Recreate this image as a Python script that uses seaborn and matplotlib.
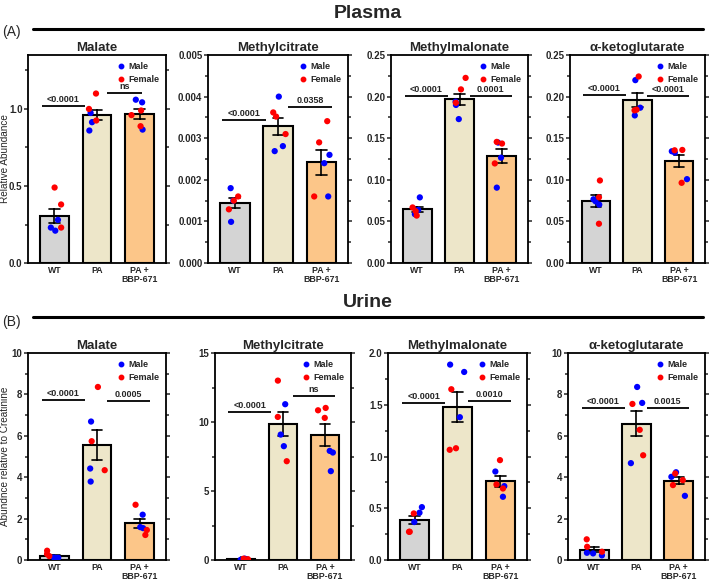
import numpy as np
import pandas as pd
import seaborn as sns
import matplotlib.pyplot as plt
from matplotlib.lines import Line2D
from matplotlib.ticker import MultipleLocator, FormatStrFormatter

# groups and sex of the 6 animals in each group (3 male, 3 female)
groups = ["WT", "PA", "PA +\nBBP-671"]
sexes = ["Male"] * 3 + ["Female"] * 3

# values: WT (M,M,M,F,F,F), PA (...), PA + BBP-671 (...)
plasma_malate = [0.21, 0.28, 0.23, 0.49, 0.38, 0.23,
                 0.974, 0.914, 0.86, 1.10, 1.00, 0.925,
                 1.043, 1.06, 0.866, 0.99, 0.96, 0.888]
plasma_methylcitrate = [0.00180, 0.00150, 0.00099, 0.00160, 0.00150, 0.00129,
                        0.00400, 0.00281, 0.00269, 0.00362, 0.00352, 0.00310,
                        0.00260, 0.00240, 0.00160, 0.00341, 0.00290, 0.00160]
plasma_methylmalonate = [0.0789, 0.0639, 0.0587, 0.0668, 0.0623, 0.0570,
                         0.194, 0.190, 0.173, 0.2225, 0.2087, 0.1926,
                         0.1448, 0.1266, 0.0906, 0.1456, 0.1436, 0.1197]
plasma_akg = [0.0742, 0.0766, 0.0702, 0.0992, 0.079, 0.0472,
              0.2198, 0.1867, 0.1774, 0.2242, 0.1835, 0.1843,
              0.1343, 0.1327, 0.1008, 0.1355, 0.1359, 0.0964]
urine_malate = [0.11, 0.12, 0.10, 0.29, 0.45, 0.19,
                6.69, 4.42, 3.79, 8.36, 5.74, 4.34,
                2.19, 1.59, 1.54, 2.67, 1.45, 1.21]
urine_methylcitrate = [0.10, 0.02, 0.05, 0.02, 0.10, 0.06,
                       11.29, 9.09, 8.25, 13.0, 10.37, 7.16,
                       7.91, 7.79, 6.44, 11.02, 10.85, 10.30]
urine_methylmalonate = [0.511, 0.457, 0.367, 0.450, 0.273, 0.273,
                        1.888, 1.817, 1.38, 1.65, 1.08, 1.065,
                        0.855, 0.714, 0.611, 0.965, 0.730, 0.691]
urine_akg = [0.225, 0.32, 0.35, 1.0, 0.64, 0.40,
             8.36, 7.59, 4.68, 7.54, 6.29, 5.06,
             4.24, 4.02, 3.10, 4.18, 3.86, 3.62]

# p-value labels and the heights of their lines (WT vs PA, PA vs PA + BBP-671)
plasma_malate_sig = ([1.02, 1.104], ["<0.0001", "ns"])
plasma_methylcitrate_sig = ([0.00343, 0.00374], ["<0.0001", "0.0358"])
plasma_methylmalonate_sig = ([0.201, 0.201], ["<0.0001", "0.0001"])
plasma_akg_sig = ([0.2016, 0.2008], ["<0.0001", "<0.0001"])
urine_malate_sig = ([7.72, 7.67], ["<0.0001", "0.0005"])
urine_methylcitrate_sig = ([10.69, 11.87], ["<0.0001", "ns"])
urine_methylmalonate_sig = ([1.518, 1.534], ["<0.0001", "0.0010"])
urine_akg_sig = ([7.36, 7.36], ["<0.0001", "0.0015"])

bar_colors = ["#d4d4d4", "#ede6c9", "#fcc689"]
sex_colors = {"Male": "#0000ff", "Female": "#ff0000"}

sns.set_style("ticks")
plt.rcParams["font.family"] = ["Liberation Sans", "DejaVu Sans"]

fig = plt.figure(figsize=(7.09, 5.81), dpi=100)

wide = [(-0.3, 0.72), (1.24, 2.24)]
short = [(-0.3, 0.72), (1.24, 2.06)]

# (title, values, sig, ymax, major, minor, fmt, ylabel, axes rect, sig spans)
panels = [
    ("Malate", plasma_malate, plasma_malate_sig, 1.35, 0.5, 0.25, "%.1f",
     "Relative Abundance", [0.0395, 0.5473, 0.1946, 0.358], short),
    ("Methylcitrate", plasma_methylcitrate, plasma_methylcitrate_sig, 0.005, 0.001, 0.0005, "%.3f",
     "", [0.2934, 0.5473, 0.1975, 0.358], wide),
    ("Methylmalonate", plasma_methylmalonate, plasma_methylmalonate_sig, 0.25, 0.05, 0.025, "%.2f",
     "", [0.5515, 0.5473, 0.1932, 0.358], wide),
    ("\u03b1-ketoglutarate", plasma_akg, plasma_akg_sig, 0.25, 0.05, 0.025, "%.2f",
     "", [0.8039, 0.5473, 0.1904, 0.358], wide),
    ("Malate", urine_malate, urine_malate_sig, 10, 2, 1, "%d",
     "Abundnce relative to Creatinine", [0.0395, 0.0361, 0.1946, 0.3563], wide),
    ("Methylcitrate", urine_methylcitrate, urine_methylcitrate_sig, 15, 5, 2.5, "%d",
     "", [0.3032, 0.0361, 0.1918, 0.3563], wide),
    ("Methylmalonate", urine_methylmalonate, urine_methylmalonate_sig, 2.0, 0.5, 0.25, "%.1f",
     "", [0.5472, 0.0361, 0.196, 0.3563], wide),
    ("\u03b1-ketoglutarate", urine_akg, urine_akg_sig, 10, 2, 1, "%d",
     "", [0.8011, 0.0361, 0.1932, 0.3563], wide),
]

np.random.seed(3)
for title, values, sig, ymax, major, minor, fmt, ylabel, rect, spans in panels:
    ax = fig.add_axes(rect)
    df = pd.DataFrame({"Group": np.repeat(groups, 6), "Sex": sexes * 3, "Value": values})
    sns.barplot(data=df, x="Group", y="Value", hue="Group", order=groups, hue_order=groups,
                palette=bar_colors, saturation=1, legend=False, errorbar="se", capsize=0.25,
                err_kws={"color": "black", "linewidth": 1.2},
                edgecolor="black", linewidth=1.5, width=0.68, ax=ax)
    sns.stripplot(data=df, x="Group", y="Value", hue="Sex", order=groups,
                  palette=sex_colors, jitter=0.2, size=4.5, linewidth=0,
                  legend=False, ax=ax, zorder=3)

    # significance lines
    for (x0, x1), y, txt in zip(spans, sig[0], sig[1]):
        ax.plot([x0, x1], [y, y], color="black", lw=1.3, solid_capstyle="butt")
        ax.annotate(txt, ((x0 + x1) / 2, y), xytext=(0, 1.5), textcoords="offset points",
                    ha="center", va="bottom", fontsize=6.5, fontweight="bold")

    ax.set_xlim(-0.62, 2.62)
    ax.set_ylim(0, ymax)
    ax.yaxis.set_major_locator(MultipleLocator(major))
    ax.yaxis.set_minor_locator(MultipleLocator(minor))
    ax.yaxis.set_major_formatter(FormatStrFormatter(fmt))
    ax.tick_params(axis="y", which="both", direction="out", left=True, right=True,
                   labelsize=7, width=1.1, pad=1)
    ax.tick_params(axis="y", which="major", length=3)
    ax.tick_params(axis="y", which="minor", length=2)
    ax.tick_params(axis="x", direction="in", length=3, width=1.1, labelsize=6.3, pad=2)
    for lab in ax.get_xticklabels() + ax.get_yticklabels():
        lab.set_fontweight("bold")
    for lab in ax.get_xticklabels():
        lab.set_linespacing(1.0)
    for s in ax.spines.values():
        s.set_visible(True)
        s.set_linewidth(1.3)
        s.set_color("black")

    ax.set_xlabel("")
    ax.set_ylabel(ylabel, fontsize=7.2)
    ax.yaxis.set_label_coords(-0.128, 0.5)
    ax.set_title(title, fontsize=9.5, fontweight="bold", pad=3)

    handles = [Line2D([], [], marker="o", ls="", color=sex_colors[s], markersize=3.2)
               for s in ["Male", "Female"]]
    ax.legend(handles, ["Male", "Female"], loc="upper right", frameon=False,
              prop={"size": 6.5, "weight": "bold"}, handlelength=0.8, handletextpad=0.4,
              labelspacing=0.5, borderaxespad=0.35)

# section headers
for label, name, y_text, y_line, y_tag in [("(A)", "Plasma", 13, 29, 32),
                                           ("(B)", "Urine", 303, 317, 322)]:
    fig.text(368 / 709, 1 - y_text / 581, name, ha="center", va="center",
             fontsize=14, fontweight="bold")
    fig.add_artist(Line2D([33 / 709, 703 / 709], [1 - y_line / 581] * 2,
                          color="black", lw=2.2))
    fig.text(2 / 709, 1 - y_tag / 581, label, ha="left", va="center", fontsize=10)

fig.savefig("out.png", dpi=100)
